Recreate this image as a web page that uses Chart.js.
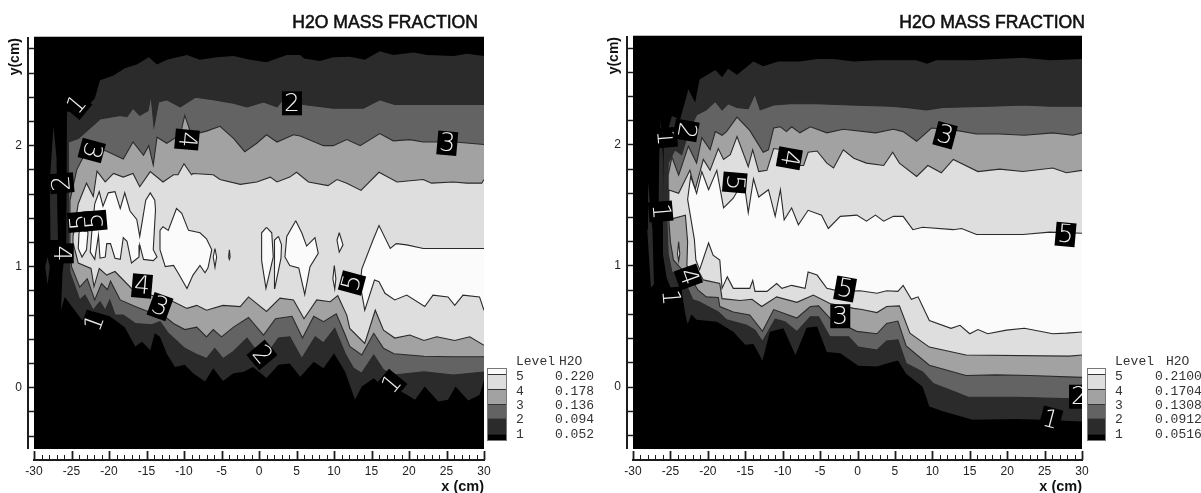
<!DOCTYPE html>
<html><head><meta charset="utf-8">
<script src="https://cdn.jsdelivr.net/npm/chart.js@4/dist/chart.umd.min.js"></script>
<style>html,body{margin:0;padding:0;background:#fff}#w{position:relative;width:1201px;height:493px;overflow:hidden}canvas{position:absolute;top:0}</style>
</head><body><div id="w"><canvas id="a" width="600" height="493" style="left:0"></canvas><canvas id="b" width="601" height="493" style="left:600px"></canvas></div>
<script>
const xTicks=[];for(let v=-30;v<=30;v++)xTicks.push(v);
const xMajor=[-30,-25,-20,-15,-10,-5,0,5,10,15,20,25,30];
const yTicks=[-0.4,-0.2,0,0.2,0.4,0.6,0.8,1,1.2,1.4,1.6,1.8,2,2.2,2.4,2.6,2.8];
const yLabels=[0,1,2];
const title='H2O MASS FRACTION';
const levelNames=['5','4','3','2','1'];
const leftLevels=['0.220','0.178','0.136','0.094','0.052'];
const rightLevels=['0.2100','0.1704','0.1308','0.0912','0.0516'];

// LEFT PANEL contours: upper and lower branches, left to right
const L_C1_upper=[[-25.6,2.28],[-23.4,2.29],[-21.9,2.39],[-21.2,2.54],[-19.4,2.58],[-17.9,2.64],[-16.3,2.67],[-14.7,2.73],[-13.6,2.67],[-12.3,2.71],[-9.6,2.75],[-7.9,2.71],[-5.6,2.73],[-3.4,2.74],[-1.2,2.71],[1,2.69],[3.7,2.75],[5.5,2.75],[6,2.72],[8.1,2.70],[9.9,2.73],[12.1,2.735],[14.1,2.71],[16.1,2.78],[17.9,2.75],[20.6,2.77],[22.4,2.75],[26,2.74],[27.7,2.76],[30,2.74]];
const L_C1_lower=[[-25.7,1.2],[-26.2,.95],[-26.4,.64],[-25.9,.75],[-23.6,.56],[-22.1,.63],[-19.9,.59],[-17.9,.50],[-16.5,.34],[-15.6,.38],[-14.5,.31],[-13.9,.45],[-13.2,.42],[-12.3,.28],[-11.2,.17],[-9.9,.19],[-8.8,.12],[-7.2,.05],[-6.1,.16],[-4.8,.055],[-3.4,.12],[-2.1,.13],[-.8,.17],[1,.08],[2.6,.19],[4.1,.2],[5.5,.09],[7.3,.215],[8.6,.16],[10,.284],[11.5,.13],[12.8,-.10],[13.7,.01],[15.3,.077],[16,.036],[17.5,.01],[19.5,-.05],[20.8,-.10],[22.1,.01],[23.9,-.115],[25.2,-.10],[26.2,.01],[27.9,-.107],[29.4,-.06],[30,.06]];
const L_C2_upper=[[-25.4,2.03],[-24.1,2.06],[-21.9,2.18],[-21.2,2.22],[-18.5,2.25],[-17.6,2.24],[-16.8,2.31],[-15.9,2.25],[-14.8,2.29],[-14.4,2.42],[-14,2.16],[-13.4,2.36],[-12.3,2.38],[-10.5,2.32],[-8.5,2.40],[-6.1,2.38],[-3.4,2.35],[-1.6,2.32],[.6,2.36],[2.4,2.32],[3.2,2.38],[5.9,2.34],[9.9,2.31],[13.9,2.31],[16.1,2.38],[18.1,2.34],[21.9,2.34],[25.9,2.34],[30,2.34]];
const L_C2_lower=[[-25.4,1.2],[-25.2,.95],[-23.9,.725],[-23.2,.765],[-22.1,.64],[-21.2,.71],[-20.5,.64],[-19.9,.725],[-19.2,.60],[-18.1,.60],[-16.5,.53],[-14.3,.52],[-13.2,.545],[-12.1,.45],[-9.9,.325],[-8.5,.28],[-7,.24],[-5.9,.325],[-4.8,.24],[-3.4,.30],[-1.6,.41],[-.3,.30],[1,.27],[2.6,.41],[4.1,.42],[5.7,.24],[7.5,.42],[8.6,.37],[10.1,.49],[11.5,.28],[12.6,.16],[13.7,.12],[15.3,.27],[16.6,.145],[18,.105],[22,.13],[25.9,.105],[30,.13]];
const L_C3_upper=[[-25.2,1.55],[-24.3,1.80],[-23.4,1.91],[-20.5,1.96],[-18.1,1.89],[-16.8,2.03],[-15.4,1.92],[-14.7,2.0],[-14.1,1.84],[-13.6,2.07],[-12.3,2.02],[-10.5,2.09],[-9.9,2.25],[-9,2.09],[-7,2.12],[-5.2,2.16],[-3.4,2.06],[-1.9,1.95],[-.3,2.02],[1,2.09],[2.4,2.03],[4.6,2.09],[5.5,2.08],[8.6,2.0],[9.9,2.0],[11.7,2.05],[13.5,2.0],[16.1,2.10],[17.9,2.04],[20.1,2.05],[21.9,2.03],[26.1,2.03],[30,2.01]];
const L_C3_lower=[[-25.2,1.2],[-25,1.0],[-23.9,.83],[-22.9,.90],[-21.9,.725],[-21,.86],[-20.2,.81],[-19.8,.88],[-18.5,.725],[-16.5,.67],[-14.8,.63],[-12.8,.60],[-11.4,.53],[-9.9,.48],[-8.3,.50],[-7,.42],[-6.1,.48],[-5,.42],[-3.4,.50],[-1.4,.58],[.6,.435],[2.2,.57],[4.4,.59],[5.8,.41],[7.3,.59],[8.6,.545],[10.3,.61],[11.5,.435],[12.1,.34],[13.7,.27],[15.3,.45],[16.6,.325],[18,.28],[22,.26],[25.9,.255],[30,.255]];
const L_C4_upper=[[-24.8,1.25],[-24.1,1.52],[-23,1.69],[-22.1,1.58],[-21.6,1.79],[-20.5,1.70],[-19.4,1.77],[-18.1,1.74],[-16.8,1.77],[-15.9,1.66],[-14.5,1.785],[-12.8,1.70],[-11.4,1.76],[-10.8,1.76],[-10,1.85],[-9,1.76],[-8.8,1.77],[-6.1,1.76],[-5.2,1.72],[-2.5,1.68],[-.3,1.70],[1.5,1.74],[2.4,1.70],[4.1,1.74],[5,1.78],[6.6,1.70],[9.2,1.67],[10.4,1.72],[11.7,1.69],[13.6,1.63],[16,1.78],[18.4,1.70],[21.9,1.72],[23,1.69],[25.9,1.70],[27.7,1.69],[29.7,1.69],[30,1.72]];
const L_C4_lower=[[-24.8,1.2],[-24.1,1.03],[-22.4,.985],[-22,.835],[-21.3,.985],[-20.3,.93],[-19.2,.96],[-17,.82],[-13.6,.75],[-11.4,.71],[-9.6,.655],[-8.3,.68],[-7,.64],[-4.8,.68],[-2.5,.67],[-1.4,.75],[1,.63],[2.8,.74],[4.6,.725],[6,.57],[7.7,.725],[9.5,.71],[10.5,.76],[11.7,.60],[12.1,.49],[14.1,.365],[15.5,.64],[16.6,.475],[18.1,.41],[20.1,.435],[22,.39],[23.7,.42],[26.1,.39],[28.1,.42],[30,.35]];
const L_C5_upper=[[14.1,.64],[13.5,.85],[13.7,.98],[15.2,1.22],[16,1.34],[17.5,1.15],[18.3,1.19],[19.7,1.18],[21.9,1.15],[25.9,1.15],[30,1.15]];
const L_C5_lower=[[14.1,.64],[15.4,.89],[16,.875],[16.8,.78],[18.1,.725],[19.7,.765],[22.1,.67],[23.2,.765],[25.2,.75],[26.1,.68],[27.2,.765],[29.4,.75],[30,.64]];
const L_dark_island=[[-27.4,2.16],[-27,1.9],[-26.9,1.5],[-26.8,1.22],[-27.8,1.22],[-27.9,1.7]];
const L_dark_island2=[[-28.2,1.08],[-27.9,1.0],[-28.2,.85],[-28.5,1.0]];
const L_white_islands=[
 [[-24,1.28],[-24.1,1.15],[-23.6,1.08],[-23,1.14],[-22.8,1.28],[-23.4,1.36]],
 [[-21.9,1.52],[-21.3,1.62],[-20.8,1.50],[-20.1,1.61],[-19.2,1.62],[-18.5,1.48],[-17.9,1.61],[-17.2,1.46],[-16.3,1.39],[-15.9,1.25],[-15.1,1.55],[-14.5,1.61],[-13.9,1.55],[-13.8,1.47],[-14.1,1.14],[-13.6,1.08],[-14.1,1.05],[-15.4,1.06],[-15.9,1.18],[-16,1.08],[-17,1.03],[-17.6,1.21],[-18.1,1.24],[-18.5,1.06],[-19.2,1.07],[-19.8,1.19],[-20.3,1.19],[-20.5,1.08],[-21.2,1.07],[-21.4,1.26],[-21.9,1.06],[-22.5,1.12],[-22.3,1.28]],
 [[-13.2,1.30],[-12.8,1.33],[-12.1,1.30],[-11,1.48],[-10.3,1.44],[-9.4,1.30],[-7.87,1.28],[-7,1.23],[-6.3,1.14],[-6.8,.99],[-7.2,.95],[-7.87,1.01],[-8.8,.93],[-9.6,.82],[-10.8,.95],[-11.4,1.01],[-12.5,1.0],[-13.2,1.14]],
 [[-5.87,1.15],[-5.65,1.08],[-5.87,.995],[-6.1,1.08]],
 [[-3.95,1.14],[-3.85,1.08],[-3.95,1.06],[-4.05,1.08]],
 [[1,1.325],[1.7,1.28],[1.9,1.08],[.93,.82],[.35,1.05],[.35,1.28]],
 [[2.6,1.25],[3,1.18],[2.93,1.07],[2.1,.82],[2,1.08],[2.13,1.22]],
 [[4.9,1.38],[5.7,1.28],[6.35,1.17],[7.46,1.24],[7.9,1.11],[6.8,1.0],[6.1,.77],[5.3,.99],[4.1,1.01],[3.46,1.08],[3.7,1.25]],
 [[10.7,1.28],[11.2,1.18],[10.7,1.12],[10.4,1.22]],
 [[10.04,1.01],[10.25,.90],[10.1,.815],[9.85,.90]]
];

// RIGHT PANEL contours
const R_C1_upper=[[-24.8,2.24],[-23.7,2.21],[-22.6,2.46],[-21.7,2.35],[-21.1,2.54],[-19,2.62],[-18.1,2.56],[-17.3,2.63],[-16.1,2.58],[-13.9,2.69],[-12.6,2.65],[-10.6,2.69],[-7.7,2.69],[-5.4,2.71],[-3.2,2.71],[-.5,2.69],[2.6,2.70],[5.7,2.70],[7.9,2.70],[9.3,2.67],[10.5,2.70],[15.4,2.70],[22.1,2.72],[25.7,2.70],[30,2.71]];
const R_C1_lower=[[-25.9,2.0],[-26,1.5],[-26,1.1],[-25.5,.9],[-24.5,.75],[-23.4,.75],[-23,.6],[-22.7,.52],[-22.2,.6],[-21.5,.555],[-18.8,.54],[-16.6,.457],[-15,.35],[-13.9,.355],[-12.7,.22],[-11.7,.457],[-9.9,.485],[-8.3,.265],[-6.8,.49],[-5.4,.50],[-4.1,.29],[-2.3,.28],[.1,.175],[2.6,.17],[3.9,.195],[5.4,.22],[6.5,.11],[8.7,.003],[9.6,-.16],[11.4,-.20],[15.4,-.27],[21.2,-.265],[24.8,-.27],[30,-.285]];
const R_C2_upper=[[-24.4,1.96],[-23.5,1.92],[-22.6,2.10],[-21.5,2.25],[-20.2,2.29],[-19,2.36],[-18.1,2.29],[-17.3,2.34],[-16.1,2.31],[-14.6,2.30],[-13.7,2.42],[-13,2.29],[-11.2,2.33],[-9,2.34],[-5.4,2.34],[-1,2.33],[4.4,2.32],[6.5,2.31],[9.2,2.29],[11.4,2.31],[17.7,2.32],[22.1,2.33],[25.7,2.32],[30,2.32]];
const R_C2_lower=[[-25.3,1.85],[-25.5,1.4],[-25.3,1.1],[-24.8,.95],[-23.3,.9],[-22,.72],[-21.2,.705],[-18.6,.62],[-17.5,.555],[-14.8,.51],[-13.7,.47],[-12.7,.375],[-11,.56],[-9.7,.54],[-8.1,.457],[-6.3,.58],[-5.2,.58],[-3.7,.415],[-1.2,.415],[.1,.33],[2.6,.305],[3.9,.38],[5.4,.39],[6.5,.195],[8.7,.125],[10.1,.03],[13.2,-.045],[14.8,-.085],[21.2,-.085],[30,-.10]];
const R_C3_upper=[[-24.8,1.90],[-23.9,1.75],[-22.6,1.99],[-21.5,1.85],[-20.8,2.06],[-19.7,1.96],[-19,2.11],[-18.1,2.08],[-17.5,2.11],[-16.1,2.23],[-14.4,2.12],[-12.6,1.94],[-11.9,1.96],[-11.2,2.14],[-10.3,2.15],[-9.5,2.11],[-8.8,2.15],[-7.7,2.10],[-6.3,2.15],[-4.1,2.10],[-1.9,2.13],[2.4,2.10],[4.8,2.13],[6.1,2.11],[7.9,2.03],[9.9,2.14],[13.2,2.12],[15.9,2.09],[19,2.09],[22.3,2.08],[26.1,2.10],[28.8,2.08],[30,2.10]];
const R_C3_lower=[[-25.3,1.75],[-25.3,1.45],[-25,1.2],[-24.6,1.05],[-23.6,.98],[-22.5,.92],[-21.3,.80],[-20.2,.745],[-18.6,.74],[-18.4,.665],[-16.6,.62],[-14.4,.595],[-12.7,.46],[-11.2,.64],[-8.1,.57],[-6.3,.665],[-5.2,.67],[-3.7,.57],[-.1,.46],[2.6,.44],[3.9,.525],[5.4,.545],[6.5,.34],[9.6,.18],[14.5,.095],[18.5,.10],[23,.095],[30,.08]];
const R_C4_upper=[[-25.3,1.63],[-23.9,1.60],[-22.4,1.79],[-21.7,1.63],[-20.6,1.88],[-19.7,1.79],[-18.6,1.97],[-17.9,1.88],[-17,1.92],[-16.1,2.07],[-14.6,1.82],[-14,1.96],[-13.2,1.78],[-12.1,1.79],[-11.2,1.97],[-10.1,1.96],[-8.8,1.83],[-7.2,1.83],[-6.6,1.94],[-5.4,1.95],[-4.1,1.85],[-3.2,1.81],[-1.9,1.96],[-.5,1.89],[1.2,1.85],[3.5,1.83],[4.7,1.94],[5.6,1.85],[7.9,1.74],[9.4,1.83],[11.2,1.77],[12.8,1.88],[16.1,1.78],[19,1.80],[22.1,1.78],[26.1,1.81],[27.9,1.77],[30,1.79]];
const R_C4_lower=[[-25.2,1.42],[-24.8,1.39],[-23,1.42],[-22.7,1.2],[-22.8,1.0],[-22.3,.97],[-21.1,.94],[-20.6,.885],[-18.4,.855],[-18.1,.73],[-15.7,.715],[-14.1,.725],[-12.8,.665],[-10.8,.745],[-8.1,.70],[-5.9,.76],[-3.7,.69],[-.5,.65],[.6,.64],[2.6,.615],[3.9,.665],[5.6,.67],[7,.445],[9.6,.33],[14.5,.265],[28.3,.255],[30,.265]];
const R_C5_upper=[[-21.8,1.22],[-22.7,1.55],[-22.3,1.74],[-21.5,1.60],[-20.8,1.78],[-19.9,1.63],[-18.8,1.79],[-17.9,1.48],[-16.6,1.56],[-15.2,1.71],[-14.6,1.44],[-13.9,1.72],[-13.2,1.57],[-11.9,1.63],[-11,1.41],[-10.3,1.63],[-9.8,1.38],[-8.8,1.48],[-7.9,1.34],[-6.6,1.46],[-4.8,1.42],[-3.9,1.31],[-2.3,1.41],[-.1,1.42],[1.2,1.37],[2.4,1.42],[3.5,1.37],[4.8,1.41],[6.1,1.41],[7.4,1.30],[8.7,1.32],[12.8,1.30],[13.9,1.31],[15.9,1.26],[22.1,1.26],[25.7,1.28],[30,1.27]];
const R_C5_lower=[[-21.6,1.05],[-21.1,.97],[-19.9,1.19],[-19.3,1.09],[-18.4,1.05],[-18.1,.815],[-17.4,.91],[-16.6,.815],[-14.4,.815],[-14,.88],[-13.7,.79],[-12.1,.79],[-10.8,.855],[-10.1,.815],[-8.8,.84],[-7,.815],[-6.6,.95],[-5.4,.925],[-4.1,.815],[-2.3,.79],[.35,.795],[2.6,.775],[3.9,.795],[5.4,.79],[6.1,.84],[7.2,.725],[8.1,.745],[9.6,.55],[12.5,.485],[13.7,.51],[15,.44],[16.1,.475],[17.4,.44],[19.9,.47],[22.3,.485],[26.1,.44],[27.9,.445],[30,.455]];
const R_dark_island=[[-26.3,2.2],[-26,1.9],[-25.9,1.4],[-26.6,1.4],[-26.5,1.9]];
const R_dark_island2=[[-28,1.7],[-27.4,1.3],[-27.2,.85],[-27.6,.82],[-28.1,1.3]];
const R_white_islands=[[[-23.9,1.2],[-23.75,1.1],[-23.9,1.04],[-24.05,1.1]]];

// contour labels: digit, x, y, angle
const L_labelDigits=['1','2','3','3','4','2','5','5','4','4','3','1','2','5','1'];
const L_labelX=[-24.3,4.4,-22.3,25.1,-9.6,-26.3,-23.9,-21.9,-26.3,-15.6,-13.2,-21.9,.4,12.4,17.7];
const L_labelY=[2.34,2.35,1.96,2.02,2.05,1.69,1.37,1.38,1.11,.84,.67,.535,.27,.865,.03];
const L_labelAngle=[-50,0,105,5,95,-95,-95,-95,90,5,20,-70,50,-75,-50];
const R_labelDigits=['1','2','3','4','5','1','5','4','1','5','3','2','1'];
const R_labelX=[-25.7,-22.9,11.7,-9.1,-16.4,-26.3,27.8,-22.6,-25,-1.66,-2.3,29.6,25.8];
const R_labelY=[2.06,2.12,2.08,1.89,1.69,1.45,1.26,.91,.74,.81,.585,-.08,-.27];
const R_labelAngle=[85,100,15,100,95,85,5,70,85,10,0,0,15];

const C={w:'#fbfbfb',l:'#dedede',m:'#a2a2a2',d:'#636363',k:'#2b2b2b',b:'#000000'};
const pts=a=>a.map(p=>({x:p[0],y:p[1]}));
const band=(u,l)=>pts([...u].reverse().concat(l));
const loop=a=>pts(a.concat([a[0]]));
const ds=(data,color,line)=>({type:'scatter',showLine:true,fill:'shape',tension:0,data,pointRadius:0,pointHoverRadius:0,backgroundColor:color,borderColor:line?'#2a2a2a':color,borderWidth:line?1.1:0});

function panel(id,o){
  const layers=[
    ds(pts([[-31,-1],[31,-1],[31,3.2],[-31,3.2]]),C.b,false),
    ds(band(o.c1[0],o.c1[1]),C.k,false),
    ds(loop(o.isl1),C.k,false),
    ds(loop(o.isl2),C.k,false),
    ds(band(o.c2[0],o.c2[1]),C.d,true),
    ds(band(o.c3[0],o.c3[1]),C.m,true),
    ds(band(o.c4[0],o.c4[1]),C.l,true),
    ds(band(o.c5[0],o.c5[1]),C.w,true)
  ];
  o.islands.forEach(i=>layers.push(ds(loop(i),C.w,true)));
  const deco={id:'deco',afterDraw(c){
    const x=c.ctx,xs=c.scales.x,ys=c.scales.y,a=c.chartArea;
    x.save();
    // contour labels
    x.save();x.beginPath();x.rect(a.left,a.top,a.right-a.left,a.bottom-a.top);x.clip();
    o.lab[0].forEach((t,i)=>{
      x.save();x.translate(xs.getPixelForValue(o.lab[1][i]),ys.getPixelForValue(o.lab[2][i]));
      x.rotate(o.lab[3][i]*Math.PI/180);
      x.fillStyle='#000';x.fillRect(-10,-12,20,24);
      x.fillStyle='#f0f0f0';x.font='200 25px "DejaVu Sans"';x.textAlign='center';x.textBaseline='middle';
      x.fillText(t,0,1);x.restore();
    });
    x.restore();
    // top edge and detached axes
    x.strokeStyle='#bbb';x.lineWidth=1;x.beginPath();x.moveTo(a.left,a.top-.5);x.lineTo(a.right,a.top-.5);x.stroke();
    x.strokeStyle='#1c1c1c';x.lineWidth=2;
    const lx=a.left-6;
    x.beginPath();x.moveTo(lx,a.top);x.lineTo(lx,a.bottom);x.stroke();
    x.beginPath();x.moveTo(xs.getPixelForValue(-30)-1,a.bottom+11);x.lineTo(xs.getPixelForValue(30)+1,a.bottom+11);x.stroke();
    xTicks.forEach(v=>{
      const p=Math.round(xs.getPixelForValue(v))+.5,maj=xMajor.includes(v);
      x.lineWidth=maj?1.8:1;x.beginPath();x.moveTo(p,a.bottom+(maj?2:6));x.lineTo(p,a.bottom+11);x.stroke();
    });
    // texts
    x.fillStyle='#111';x.strokeStyle='#111';
    x.font='17.6px "Liberation Sans"';x.textAlign='right';x.textBaseline='alphabetic';
    x.lineWidth=.55;x.fillText(title,o.titleRight,28);x.strokeText(title,o.titleRight,28);
    x.font='bold 14.5px "Liberation Sans"';
    x.fillText('x (cm)',a.right,491);
    x.save();x.translate(o.yTitleX,a.top+1);x.rotate(-Math.PI/2);x.font='bold 14px "Liberation Sans"';x.fillText('y(cm)',0,0);x.restore();
    // legend
    const sx=o.swatchX,sw=o.swatchW,rows=[[368,374.5,C.w],[374.5,389.5,C.l],[389.5,404.5,C.m],[404.5,419,C.d],[419,434,C.k],[434,441,C.b]];
    rows.forEach(r=>{x.fillStyle=r[2];x.fillRect(sx,r[0],sw,r[1]-r[0]);});
    x.strokeStyle='#333';x.lineWidth=1;
    [374.5,389.5,404.5,419,434].forEach(py=>{x.beginPath();x.moveTo(sx,py);x.lineTo(sx+sw,py);x.stroke();});
    x.strokeStyle='#777';x.strokeRect(sx+.5,368.5,sw-1,72);
    x.fillStyle='#333';x.font='13px "Liberation Mono"';x.textAlign='left';x.textBaseline='middle';
    x.fillText('Level',o.lvlX,362);x.fillText('H2O',o.h2oX,362);
    const rowY=[377,392,406,420,435];
    levelNames.forEach((n,i)=>{x.fillText(n,o.lvlX,rowY[i]);x.fillText(o.levels[i],o.valX,rowY[i]);});
    x.restore();
  }};
  new Chart(document.getElementById(id),{
    type:'scatter',
    data:{datasets:layers.reverse()},
    plugins:[deco],
    options:{responsive:false,animation:false,
      layout:{padding:{left:0,top:o.top,right:o.right,bottom:0}},
      plugins:{legend:{display:false},title:{display:false},tooltip:{enabled:false}},
      scales:{
        x:{type:'linear',min:-30,max:30,afterFit:s=>{s.height=44},
          afterBuildTicks:s=>{s.ticks=xMajor.map(v=>({value:v}))},
          grid:{drawOnChartArea:false,drawTicks:false},border:{display:false},
          ticks:{autoSkip:false,maxRotation:0,padding:15,color:'#222',font:{family:'Liberation Sans',size:12},callback:v=>String(v)}},
        y:{type:'linear',min:o.ymin,max:o.ymax,afterFit:s=>{s.width=o.left},
          afterBuildTicks:s=>{s.ticks=yTicks.map(v=>({value:v}))},
          grid:{drawOnChartArea:false,drawTicks:true,tickLength:6,tickColor:'#1c1c1c',tickWidth:1.5},border:{display:false},
          ticks:{autoSkip:false,padding:6,color:'#222',font:{family:'Liberation Sans',size:12},callback:v=>yLabels.includes(v)?String(v):''}}
      }
    }
  });
}
panel('a',{c1:[L_C1_upper,L_C1_lower],c2:[L_C2_upper,L_C2_lower],c3:[L_C3_upper,L_C3_lower],c4:[L_C4_upper,L_C4_lower],c5:[L_C5_upper,L_C5_lower],isl1:L_dark_island,isl2:L_dark_island2,islands:L_white_islands,
  lab:[L_labelDigits,L_labelX,L_labelY,L_labelAngle],levels:leftLevels,
  top:37,right:116,left:34,ymin:-0.507,ymax:2.898,titleRight:478,yTitleX:19,swatchX:487,swatchW:20,lvlX:516,h2oX:559,valX:555});
panel('b',{c1:[R_C1_upper,R_C1_lower],c2:[R_C2_upper,R_C2_lower],c3:[R_C3_upper,R_C3_lower],c4:[R_C4_upper,R_C4_lower],c5:[R_C5_upper,R_C5_lower],isl1:R_dark_island,isl2:R_dark_island2,islands:R_white_islands,
  lab:[R_labelDigits,R_labelX,R_labelY,R_labelAngle],levels:rightLevels,
  top:36,right:119,left:33,ymin:-0.512,ymax:2.90,titleRight:485,yTitleX:18,swatchX:487,swatchW:19,lvlX:515,h2oX:566,valX:555});
</script>
</body></html>
